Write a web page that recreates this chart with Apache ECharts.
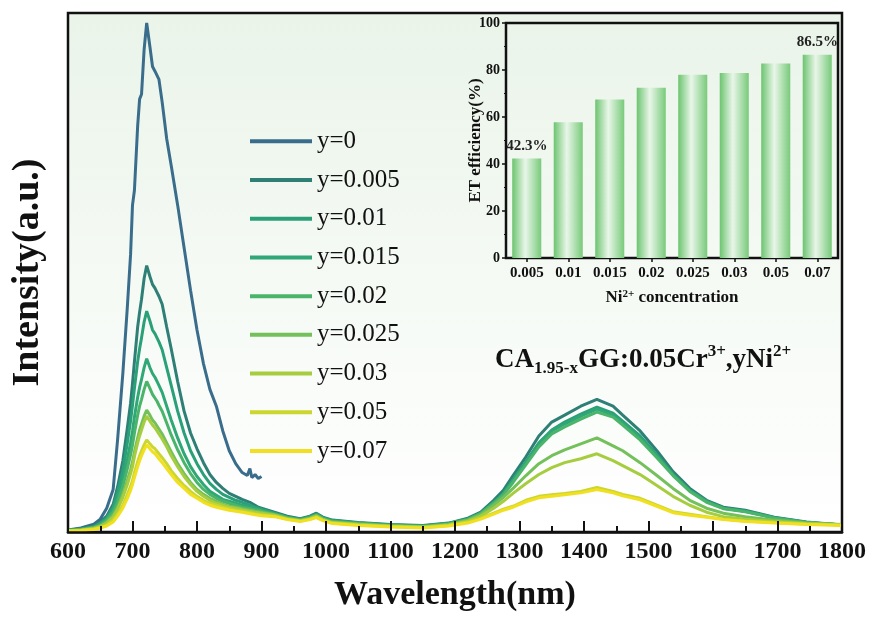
<!DOCTYPE html>
<html>
<head>
<meta charset="utf-8">
<script src="https://cdn.jsdelivr.net/npm/echarts@6/dist/echarts.min.js"></script>
<style>html,body{margin:0;padding:0;background:#fff}#c{width:871px;height:617px}</style>
</head>
<body>
<div id="c"></div>
<script>
// ---- Data ----
const seriesNames = ['y=0','y=0.005','y=0.01','y=0.015','y=0.02','y=0.025','y=0.03','y=0.05','y=0.07'];
const seriesColors = ['#3a6d8b','#2e7f75','#2aa079','#2fa776','#4ab56a','#74c05a','#a6cd3f','#cbd62e','#f1e021'];

const wlVis = [600,620,640,650,660,670,677,685,692,697,700,703,708,711,714,718,722,724,727,731,735,738,741,746,753,760,770,780,790,800,810,820,830,840,850,860,870,878,882,885,890,895,900];
const wlNir = [920,940,960,975,985,995,1010,1050,1100,1150,1190,1220,1240,1260,1275,1290,1310,1330,1350,1370,1395,1420,1445,1460,1487,1513,1538,1564,1590,1616,1650,1695,1745,1800];

const visY0    = [2,4,8,13,24,43,94,160,227,280,330,345,410,437,442,487,514,514,490,470,465,465,457,434,397,370,330,287,244,204,170,144,127,102,82,69,60,57,64,55,58,54,56];
const visY005  = [2,3,6,10,16,28,46,72,105,130,150,172,207,222,235,256,269,270,258,250,246,242,238,230,207,185,152,122,100,84,70,58,50,44,39,36,33,31,30,29,27,25,24];
const visY01   = [2,3,5,9,14,25,40,62,90,112,128,145,172,185,196,212,223,224,213,204,200,196,192,184,166,148,122,100,82,69,58,49,43,38,35,32,30,28,27,26,25,24,23];
const visY015  = [1.5,2.5,5,8,13,22,34,52,74,90,102,116,136,146,154,166,175,176,166,160,156,152,148,141,127,113,95,79,66,56,48,41,37,33,31,29,27,26,25,24.5,24,23,22];
const visY02   = [1.5,2.5,4.5,7,12,20,30,46,64,78,88,100,118,127,134,144,152,153,145,139,135,132,128,122,110,98,83,70,59,50,43,38,34,31,29,27,25,24,23.5,23,22.5,22,21];
const visY025  = [1,2,4,6,10,17,25,38,52,63,71,81,95,103,109,117,123,124,118,113,110,107,104,99,90,81,69,59,50,43,38,34,31,28,26,25,23.5,22.5,22,21.5,21,20.5,20];
const visY03   = [1,2,3.5,5.5,9,15,23,35,48,59,66,76,90,97,103,111,117,118,112,108,105,102,99,94,86,77,66,56,48,41,36,32,29,27,25,24,22.5,21.5,21,20.5,20,19.5,19];
const visY05   = [1,1.5,3,4.5,7,12,18,27,38,46,52,60,71,77,82,88,93,94,89,86,84,82,79,75,69,62,54,47,41,36,32,29,27,25,23.5,22,21,20,19.5,19,18.5,18,17.5];
const visY07   = [1,1.5,2.5,4,6,10,16,24,34,42,48,55,66,72,77,83,88,89,84,81,79,77,74,70,64,58,50,44,38,34,30,27,25,23.5,22,21,20,19,18.5,18,17.5,17,16.5];

const nirY0    = [];
const nirY005  = [20,16,13.5,16,19,15,12,9.5,7.5,6.5,9,14,20,32,42,57,76,97,111,118,127,134,127,118,102,82,61,44,32,25,22,15,10,7];
const nirY01   = [19,15,13,15.5,18,14.5,11.5,9,7,6,8.5,13,19,30,39,53,71,90,103,111,119,126,120,112,97,78,58,42,31,24,21,14.5,9.5,7];
const nirY015  = [18.5,15,12.5,15,17.5,14,11,9,7,6,8.5,13,19,29.5,38.5,52,70,89,102,109,117,124,118,110,95,77,58,42,31,24,21,14.5,9.5,7];
const nirY02   = [18,14.5,12,14.5,17,13.5,10.5,8.5,6.5,5.5,8,12.5,18.5,29,37.5,50,68,86,99,106,114,121,116,108,93,75,57,41,30,23.5,20.5,14,9.5,7];
const nirY025  = [17.5,14,12,14,16.5,13,10,8,6,5,7.5,12,17.5,27,35,44,57,69,77,83,89,95,87,82,70,57,44,32,24,19,15.5,12,9,7.5];
const nirY03   = [17,13.5,11.5,13.5,16,12.5,9.5,7.5,6,5,7,11,16,24,31,39,49,58,65,70,74,79,72,67,58,47,36,27,20,15.5,13,10.5,8.5,7];
const nirY05   = [16,13,11,13,15,12,9,7,5.5,4.5,6.5,10,14,19,23,26,32,36,37.5,39,41,45,41,38,34,27,20.5,18,15.5,13,11,9.5,8,7];
const nirY07   = [15.5,12.5,10.5,12.5,14.5,11.5,8.5,6.5,5,4,6,9,13,18,22,25,30.5,34.5,36,37.5,39.5,43,39.5,36.5,32.5,26,19.5,17,15,12.5,10.5,9,7.5,6.5];

const visAll = [visY0,visY005,visY01,visY015,visY02,visY025,visY03,visY05,visY07];
const nirAll = [nirY0,nirY005,nirY01,nirY015,nirY02,nirY025,nirY03,nirY05,nirY07];

// inset bar chart
const niConc = ['0.005','0.01','0.015','0.02','0.025','0.03','0.05','0.07'];
const etEff = [42.3, 57.8, 67.5, 72.4, 78.0, 78.7, 82.8, 86.5];
const xMin = 600, xMax = 1800;

// ---- Chart ----
const SERIF = '"Liberation Serif","Times New Roman",serif';
const chart = echarts.init(document.getElementById('c'), null, {renderer:'canvas'});

const lineSeries = seriesNames.map((name, k) => {
  const pts = [];
  visAll[k].forEach((v, i) => pts.push([wlVis[i], v]));
  nirAll[k].forEach((v, i) => pts.push([wlNir[i], v]));
  return {
    name, type: 'line', xAxisIndex: 0, yAxisIndex: 0,
    data: pts, showSymbol: false, symbol: 'none',
    lineStyle: {width: 3, color: seriesColors[k]},
    itemStyle: {color: seriesColors[k]},
    z: 3
  };
});

const barGrad = new echarts.graphic.LinearGradient(0, 0, 1, 0, [
  {offset: 0, color: '#6cc46f'},
  {offset: 0.45, color: '#e9f6e9'},
  {offset: 1, color: '#78ca7a'}
]);

const barData = etEff.map((v, i) => ({
  value: v,
  label: {show: i === 0 || i === etEff.length - 1}
}));

const option = {
  backgroundColor: '#ffffff',
  animation: false,
  title: {
    text: '{a|CA}{b|1.95-x}{a|GG:0.05Cr}{c|3+}{a|,yNi}{c|2+}',
    left: 495, top: 343, padding: 0,
    textStyle: {
      rich: {
        a: {fontFamily: SERIF, fontWeight: 'bold', fontSize: 27, color: '#111', lineHeight: 34},
        b: {fontFamily: SERIF, fontWeight: 'bold', fontSize: 17, color: '#111', lineHeight: 16, verticalAlign: 'bottom'},
        c: {fontFamily: SERIF, fontWeight: 'bold', fontSize: 17, color: '#111', lineHeight: 20, verticalAlign: 'top'}
      }
    }
  },
  legend: {
    data: seriesNames,
    orient: 'vertical',
    left: 250, top: 122, padding: 0,
    itemWidth: 62, itemHeight: 4, itemGap: 0,
    icon: 'rect',
    textStyle: {fontFamily: SERIF, fontSize: 25, color: '#111', lineHeight: 38.7}
  },
  grid: [
    {
      left: 68, right: 29, top: 13, bottom: 80,
      show: true, borderColor: '#111', borderWidth: 2.5,
      backgroundColor: new echarts.graphic.LinearGradient(0, 0, 0, 1, [
        {offset: 0, color: '#eaf4e9'},
        {offset: 1, color: '#ffffff'}
      ])
    },
    {
      left: 506, top: 23, width: 332, height: 235,
      show: true, borderColor: '#111', borderWidth: 2.5, backgroundColor: 'transparent'
    }
  ],
  xAxis: [
    {
      gridIndex: 0, type: 'value', min: xMin, max: xMax, interval: 100, position: 'bottom', z: 10,
      axisLine: {show: true, lineStyle: {color: '#111', width: 2.5}},
      axisTick: {show: true, inside: true, length: 11, lineStyle: {color: '#111', width: 2}},
      splitLine: {show: false},
      axisLabel: {fontFamily: SERIF, fontWeight: 'bold', fontSize: 24, color: '#111', margin: 8,
                  formatter: v => String(v)},
      name: 'Wavelength(nm)', nameLocation: 'middle', nameGap: 46,
      nameTextStyle: {fontFamily: SERIF, fontWeight: 'bold', fontSize: 34, color: '#111'}
    },
    {
      gridIndex: 1, type: 'category', data: niConc,
      axisLine: {show: true, lineStyle: {color: '#111', width: 2}},
      axisTick: {show: true, alignWithLabel: true, length: 4, lineStyle: {color: '#111', width: 1.5}},
      axisLabel: {fontFamily: SERIF, fontWeight: 'bold', fontSize: 15, color: '#111', margin: 8, interval: 0},
      name: 'Ni{s|2+} concentration', nameLocation: 'middle', nameGap: 31, nameMoveOverlap: false,
      nameTextStyle: {
        fontFamily: SERIF, fontWeight: 'bold', fontSize: 17, color: '#111',
        rich: {s: {fontFamily: SERIF, fontWeight: 'bold', fontSize: 11, color: '#111', verticalAlign: 'top', lineHeight: 12}}
      }
    },
    {
      // minor (50 nm) ticks of the main wavelength axis
      gridIndex: 0, type: 'value', min: xMin, max: xMax, interval: 50, position: 'bottom', offset: 0, z: 9,
      axisLine: {show: false},
      axisTick: {show: true, inside: true, length: 6, lineStyle: {color: '#111', width: 2}},
      axisLabel: {show: false}, splitLine: {show: false}
    }
  ],
  yAxis: [
    {
      gridIndex: 0, type: 'value', min: 0, max: 524,
      axisLine: {show: false}, axisTick: {show: false}, axisLabel: {show: false}, splitLine: {show: false},
      name: 'Intensity(a.u.)', nameLocation: 'middle', nameGap: 21,
      nameTextStyle: {fontFamily: SERIF, fontWeight: 'bold', fontSize: 38, color: '#111'}
    },
    {
      gridIndex: 1, type: 'value', min: 0, max: 100, interval: 20,
      axisLine: {show: true, lineStyle: {color: '#111', width: 2}},
      axisTick: {show: true, length: 4, lineStyle: {color: '#111', width: 1.5}},
      minorTick: {show: true, splitNumber: 2, length: 2, lineStyle: {color: '#111', width: 1}},
      splitLine: {show: false},
      axisLabel: {fontFamily: SERIF, fontWeight: 'bold', fontSize: 14, color: '#111', margin: 6},
      name: 'ET efficiency(%)', nameLocation: 'middle', nameGap: 22, nameMoveOverlap: false,
      nameTextStyle: {fontFamily: SERIF, fontWeight: 'bold', fontSize: 17, color: '#111'}
    }
  ],
  series: lineSeries.concat([{
    type: 'bar', xAxisIndex: 1, yAxisIndex: 1,
    data: barData, barWidth: '70%',
    itemStyle: {color: barGrad},
    label: {
      position: 'top', distance: 5, formatter: p => p.value + '%',
      fontFamily: SERIF, fontWeight: 'bold', fontSize: 15, color: '#222'
    },
    z: 2
  }])
};
chart.setOption(option);
</script>
</body>
</html>
